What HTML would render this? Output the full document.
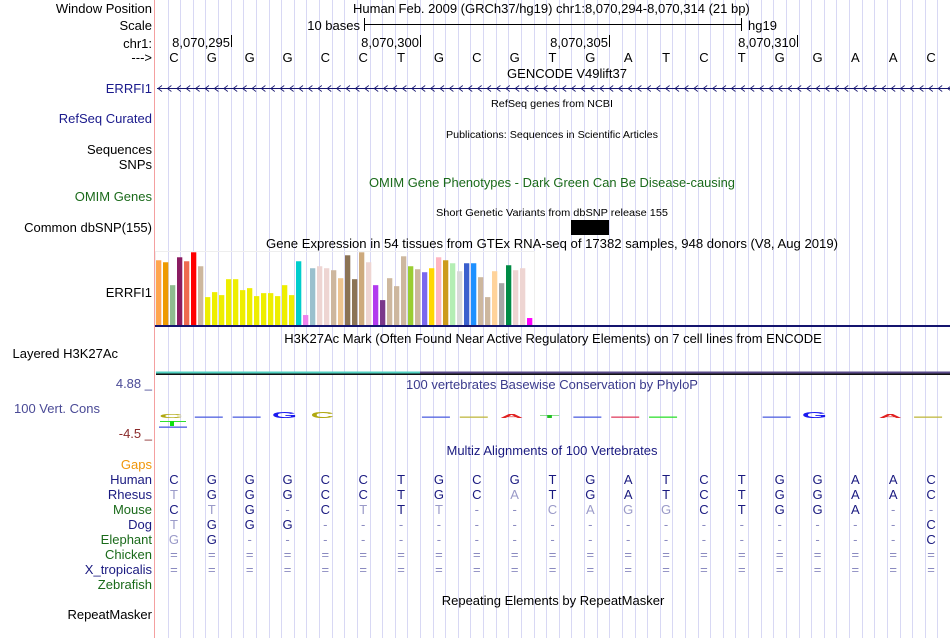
<!DOCTYPE html>
<html><head><meta charset="utf-8"><style>
html,body{margin:0;padding:0;background:#fff;}
svg{display:block;font-family:"Liberation Sans",sans-serif;}
</style></head><body>
<svg id="c" width="950" height="638" viewBox="0 0 950 638" xmlns="http://www.w3.org/2000/svg">
<g id="grid"></g>
<line x1="154.5" y1="0" x2="154.5" y2="638" stroke="#f4a0a0" stroke-width="1"/>
<g font-size="13" fill="#000" text-anchor="end">
<text x="152" y="13">Window Position</text>
<text x="152" y="30">Scale</text>
<text x="152" y="48">chr1:</text>
<text x="152" y="62">---&gt;</text>
<text x="152" y="93" fill="#1a1a8c">ERRFI1</text>
<text x="152" y="123" fill="#1a1a8c">RefSeq Curated</text>
<text x="152" y="154">Sequences</text>
<text x="152" y="169">SNPs</text>
<text x="152" y="201" fill="#1a6a1a">OMIM Genes</text>
<text x="152" y="232">Common dbSNP(155)</text>
<text x="152" y="297">ERRFI1</text>
<text x="118" y="358">Layered H3K27Ac</text>
<text x="152" y="388" fill="#4a4a96">4.88 _</text>
<text x="100" y="413" fill="#4a4a96">100 Vert. Cons</text>
<text x="152" y="438" fill="#8a2a2a">-4.5 _</text>
<text x="152" y="469" fill="#f0960a">Gaps</text>
<text x="152" y="484" fill="#1a1a80">Human</text>
<text x="152" y="499" fill="#1a1a80">Rhesus</text>
<text x="152" y="514" fill="#1a6a1a">Mouse</text>
<text x="152" y="529" fill="#1a1a80">Dog</text>
<text x="152" y="544" fill="#1a6a1a">Elephant</text>
<text x="152" y="559" fill="#1a6a1a">Chicken</text>
<text x="152" y="574" fill="#1a1a80">X_tropicalis</text>
<text x="152" y="589" fill="#1a6a1a">Zebrafish</text>
<text x="152" y="619">RepeatMasker</text>
</g>
<g font-size="13" fill="#000">
<text x="353" y="13">Human Feb. 2009 (GRCh37/hg19)   chr1:8,070,294-8,070,314 (21 bp)</text>
<text x="360" y="30" text-anchor="end">10 bases</text>
<line x1="364" y1="24.5" x2="742" y2="24.5" stroke="#000"/>
<line x1="364.5" y1="18" x2="364.5" y2="31" stroke="#000"/>
<line x1="741.5" y1="18" x2="741.5" y2="31" stroke="#000"/>
<text x="748" y="30">hg19</text>
<text x="230" y="47" text-anchor="end">8,070,295</text><line x1="231.5" y1="35" x2="231.5" y2="47" stroke="#000"/>
<text x="419" y="47" text-anchor="end">8,070,300</text><line x1="420.5" y1="35" x2="420.5" y2="47" stroke="#000"/>
<text x="608" y="47" text-anchor="end">8,070,305</text><line x1="609.5" y1="35" x2="609.5" y2="47" stroke="#000"/>
<text x="796" y="47" text-anchor="end">8,070,310</text><line x1="797.5" y1="35" x2="797.5" y2="47" stroke="#000"/>
<g id="bases"></g>
<text x="567" y="78" text-anchor="middle">GENCODE V49lift37</text>
</g>
<g id="gene"></g>
<g font-size="10" fill="#000" text-anchor="middle" font-stretch="condensed">
<text x="552" y="107" textLength="122" lengthAdjust="spacingAndGlyphs">RefSeq genes from NCBI</text>
<text x="552" y="138" textLength="212" lengthAdjust="spacingAndGlyphs">Publications: Sequences in Scientific Articles</text>
<text x="552" y="216" textLength="232" lengthAdjust="spacingAndGlyphs">Short Genetic Variants from dbSNP release 155</text>
</g>
<text x="552" y="187" font-size="13" fill="#1a6a1a" text-anchor="middle" textLength="366" lengthAdjust="spacingAndGlyphs">OMIM Gene Phenotypes - Dark Green Can Be Disease-causing</text>
<rect x="571" y="220" width="38" height="15" fill="#000"/>
<text x="552" y="248" font-size="13" text-anchor="middle" textLength="572" lengthAdjust="spacingAndGlyphs">Gene Expression in 54 tissues from GTEx RNA-seq of 17382 samples, 948 donors (V8, Aug 2019)</text>
<rect x="155.5" y="251.5" width="379" height="74" fill="none" stroke="#eeeeee"/>
<g id="gtex"></g>
<rect x="155" y="325" width="795" height="2" fill="#14146e"/>
<text x="553" y="343" font-size="13" text-anchor="middle">H3K27Ac Mark (Often Found Near Active Regulatory Elements) on 7 cell lines from ENCODE</text>
<rect x="156" y="371.5" width="264" height="2" fill="#50d0c0"/>
<rect x="420" y="371.5" width="530" height="2" fill="#5a4a8a"/>
<rect x="156" y="373.5" width="794" height="1.5" fill="#111"/>
<text x="552" y="389" font-size="13" fill="#3a3a8c" text-anchor="middle">100 vertebrates Basewise Conservation by PhyloP</text>
<g id="logo"></g>
<text x="552" y="455" font-size="13" fill="#1a1a80" text-anchor="middle">Multiz Alignments of 100 Vertebrates</text>
<g id="aln" font-size="13" text-anchor="middle"></g>
<text x="553" y="605" font-size="13" text-anchor="middle">Repeating Elements by RepeatMasker</text>
</svg>
<script>
const tissues = ["Adipose Subcutaneous","Adipose Visceral","Adrenal Gland","Artery Aorta","Artery Coronary","Artery Tibial","Bladder","Brain Amygdala","Brain ACC","Brain Caudate","Brain Cerebellar Hemisphere","Brain Cerebellum","Brain Cortex","Brain Frontal Cortex","Brain Hippocampus","Brain Hypothalamus","Brain Nucleus Accumbens","Brain Putamen","Brain Spinal Cord","Brain Substantia Nigra","Breast","Cells EBV Lymphocytes","Cells Fibroblasts","Cervix Ectocervix","Cervix Endocervix","Colon Sigmoid","Colon Transverse","Esophagus GJ","Esophagus Mucosa","Esophagus Muscularis","Fallopian Tube","Heart Atrial Appendage","Heart Left Ventricle","Kidney Cortex","Kidney Medulla","Liver","Lung","Minor Salivary Gland","Muscle Skeletal","Nerve Tibial","Ovary","Pancreas","Pituitary","Prostate","Skin Not Sun Exposed","Skin Sun Exposed","Small Intestine","Spleen","Stomach","Testis","Thyroid","Uterus","Vagina","Whole Blood"];
const expression = [65,63,40,68,64,73,59,28,33,30,46,46,35,37,29,32,32,29,40,30,64,10,57,59,57,55,47,70,46,73,63,40,25,47,39,69,59,56,53,57,68,65,62,54,62,62,48,28,54,42,60,55,57,7];
const tissueColors = ["#FFA54F","#EE9A00","#8FBC8F","#8B1C62","#EE6A50","#FF0000","#CDB79E","#EEEE00","#EEEE00","#EEEE00","#EEEE00","#EEEE00","#EEEE00","#EEEE00","#EEEE00","#EEEE00","#EEEE00","#EEEE00","#EEEE00","#EEEE00","#00CDCD","#EE82EE","#9AC0CD","#EED5D2","#EED5D2","#CDB79E","#EEC591","#8B7355","#8B7355","#CDAA7D","#EED5D2","#B23AEE","#7A378B","#CDB79E","#CDB79E","#CDB79E","#9ACD32","#CDB79E","#7A67EE","#FFD700","#FFB6C1","#CD9B1D","#B4EEB4","#D9D9D9","#3A5FCD","#1E90FF","#CDB79E","#CDB79E","#FFD39B","#A6A6A6","#008B45","#EED5D2","#EED5D2","#FF00FF"];
const refBases = "CGGGCCTGCGTGATCTGGAAC".split("");
const species = ["Human","Rhesus","Mouse","Dog","Elephant","Chicken","X_tropicalis","Zebrafish"];
const alnHuman    = "CGGGCCTGCGTGATCTGGAAC".split("");
const alnRhesus   = "tGGGCCTGCaTGATCTGGAAC".split("");
const alnMouse    = "CtG-CtTt--caggCTGGA--".split("");
const alnDog      = "tGGG----------------C".split("");
const alnElephant = "gG------------------C".split("");
const alnChicken  = "=====================".split("");
const alnXtrop    = "=====================".split("");
const alnZebra    = "                     ".split("");
const consBases = [0,1,2,3,4,7,8,9,10,11,12,13,16,17,19,20];
const consGlyph = ["C","-","-","G","C","-","-","A","T","-","-","-","-","G","A","-"];
const consScore = [0.3,0.1,0.1,0.9,0.9,0.1,0.1,0.3,0.2,0.1,0.1,0.1,0.1,1.0,0.3,0.2];
const consColor = ["C","G","G","G","C","G","C","A","T","G","A","T","G","G","A","C"];

const NS="http://www.w3.org/2000/svg";
const X0=155, BW=795/21;
function bx(i){return X0+BW*(i+0.5);}
function mk(tag,attrs,parent){const e=document.createElementNS(NS,tag);for(const k in attrs)e.setAttribute(k,attrs[k]);parent.appendChild(e);return e;}

const grid=document.getElementById('grid');
for(let x=X0+BW/3;x<950;x+=BW/3){
  const l=mk('line',{x1:Math.round(x)+0.5,y1:0,x2:Math.round(x)+0.5,y2:638,stroke:'#d8d8f4','stroke-width':1},grid);
  
  
}
const bases=document.getElementById('bases');
refBases.forEach((b,i)=>{
  const t=mk('text',{x:bx(i),y:62,'text-anchor':'middle'},bases);t.textContent=b;
  
  
});
const gene=document.getElementById('gene');
mk('line',{x1:157,y1:88.5,x2:950,y2:88.5,stroke:'#14146e','stroke-width':1},gene);
for(let x=158;x<948;x+=9.4){
  const p=mk('path',{d:`M${x+4},85.5 L${x},88.5 L${x+4},91.5`,fill:'none',stroke:'#14146e','stroke-width':0.8},gene);
  
  
}
// GTEx bars
const gtex=document.getElementById('gtex');
const maxV=73.3, H=73, base=325;
function ey(v){return base - v/maxV*H;}
expression.forEach((v,i)=>{
  const y=ey(v);
  const r=mk('rect',{x:156+i*7,y:y,width:5.3,height:base-y,fill:tissueColors[i]},gtex);
  
  
});
// conservation logo
const logo=document.getElementById('logo');
const glyphColor={A:'#e02020',C:'#b0a810',G:'#1a1aee',T:'#20c020'};
const dashColor={A:'#e04060',C:'#c0b840',G:'#5060e0',T:'#30e030'};
const Y0=418;
consBases.forEach((b,k)=>{
  const g=consGlyph[k], cx=bx(b)-3;
  if(g==='-'){
    const r=mk('rect',{x:cx-14,y:Y0-1.5,width:28,height:1.3,fill:dashColor[consColor[k]]},logo);
    
    
  } else {
    const sy=0.3+consScore[k]*0.35;
    const t=mk('text',{x:0,y:0,'text-anchor':'middle','font-size':13,'font-weight':'bold',fill:glyphColor[g],transform:`translate(${cx},${Y0}) scale(2.5,${sy})`},logo);
    t.textContent=g;
    
    
  }
});
mk('rect',{x:160,y:421,width:26,height:1,fill:'#30e030'},logo);
mk('rect',{x:170,y:421,width:4,height:5,fill:'#10e010'},logo);
mk('rect',{x:159,y:426.5,width:28,height:1.3,fill:'#4a5ae0'},logo);
// alignment
const aln=document.getElementById('aln');
const rows=[alnHuman,alnRhesus,alnMouse,alnDog,alnElephant,alnChicken,alnXtrop,alnZebra];
rows.forEach((row,r)=>{
  const y=484+r*15;
  row.forEach((ch,i)=>{
    if(ch===' ')return;
    let txt=ch, fill='#1a1a80';
    if(ch==='-'||ch==='='){fill='#8a8ac0';}
    else if(ch===ch.toLowerCase()){txt=ch.toUpperCase();fill='#9a9ac8';}
    const t=mk('text',{x:bx(i),y:y,fill:fill},aln);
    t.textContent=txt;
    
    
  });
});
</script>
</body></html>
